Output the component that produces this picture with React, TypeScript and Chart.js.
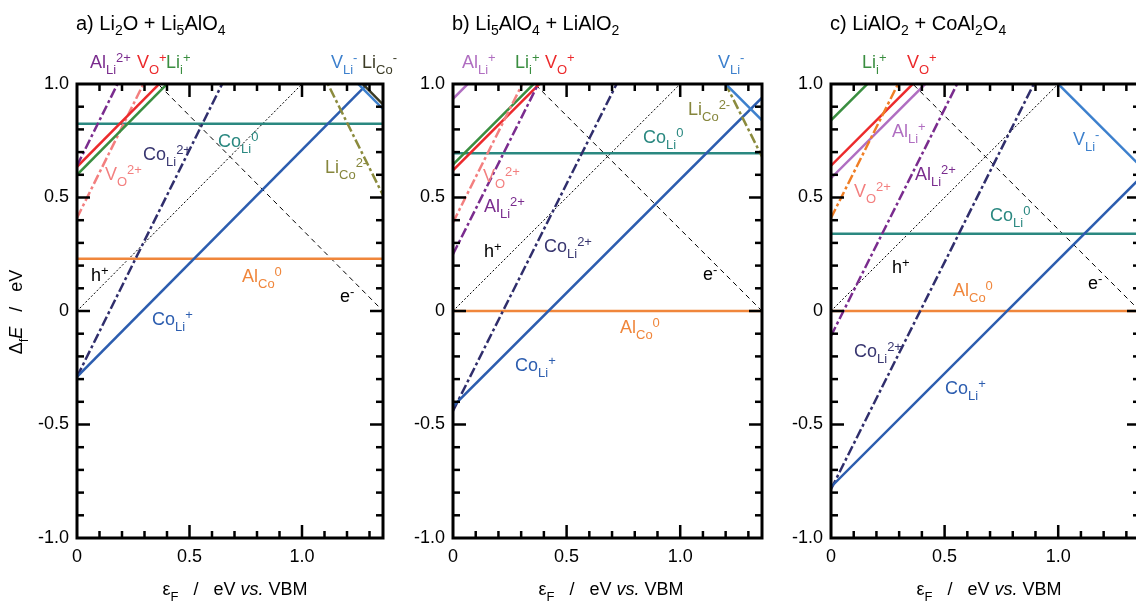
import React, { useEffect, useRef } from 'react';
import { Chart, registerables } from 'chart.js';

Chart.register(...registerables);

const FONT = '"Liberation Sans", Arial, Helvetica, sans-serif';

// ---------- data ----------
// Fermi level at the two ends of every line (eV vs. VBM)
const EF_ENDS = [0, 1.36];
const X_MAX = 1.36;
const X_TICKS = [0, 0.5, 1.0];
const Y_TICKS = [-1.0, -0.5, 0, 0.5, 1.0];

// free carriers: ΔfE at εF = 0 and εF = 1.36
const H_PLUS = [0, 1.36];
const E_MINUS = [1.36, 0];

// panel a) Li2O + Li5AlO4 — ΔfE (eV) at the two ends
const A_ALLI2 = [0.64, 3.36];
const A_VO1 = [0.635, 1.995];
const A_LII1 = [0.60, 1.96];
const A_VO2 = [0.41, 3.13];
const A_COLI2 = [-0.29, 2.43];
const A_COLI1 = [-0.29, 1.07];
const A_COLI0 = [0.825, 0.825];
const A_ALCO0 = [0.23, 0.23];
const A_VLI = [2.25, 0.89];
const A_LICO1 = [2.27, 0.91];
const A_LICO2 = [3.23, 0.51];

// panel b) Li5AlO4 + LiAlO2
const B_ALLI1 = [0.935, 2.295];
const B_LII1 = [0.645, 2.005];
const B_VO1 = [0.62, 1.98];
const B_VO2 = [0.39, 3.11];
const B_ALLI2 = [0.25, 2.97];
const B_COLI2 = [-0.44, 2.28];
const B_COLI1 = [-0.42, 0.94];
const B_COLI0 = [0.695, 0.695];
const B_ALCO0 = [0.0, 0.0];
const B_VLI = [2.2, 0.84];
const B_LICO2 = [3.4, 0.68];

// panel c) LiAlO2 + CoAl2O4
const C_LII1 = [0.84, 2.2];
const C_VO1 = [0.64, 2.0];
const C_ALLI1 = [0.585, 1.945];
const C_VO2 = [0.41, 3.13];
const C_ALLI2 = [-0.11, 2.61];
const C_COLI2 = [-0.785, 1.935];
const C_COLI1 = [-0.775, 0.585];
const C_COLI0 = [0.34, 0.34];
const C_ALCO0 = [0.0, 0.0];
const C_VLI = [2.0, 0.64];

// ---------- styles ----------
const COL = {
  liI: '#3A8E40',
  vo1: '#EC2A2C',
  alLi2: '#7A2C8E',
  alLi1: '#B06EC1',
  vo2: '#F37F7F',
  vo2c: '#F07E25',
  coLi2: '#302E6C',
  coLi1: '#2C5DAF',
  coLi0: '#2A8880',
  alCo0: '#F0863B',
  vLi: '#3D80CD',
  liCo1: '#3A3A22',
  liCo2: '#8B8B3D',
  black: '#000000',
};
const DASH2 = [10, 3, 3, 3];

type Series = { v: number[]; color: string; dash?: number[]; w?: number };
type Label = { t: string; c: string; dx: number; dy: number };
type Panel = {
  key: string;
  title: string;
  left: number;
  width: number;
  leftW: number;
  padRight: number;
  yTitle: boolean;
  series: Series[];
  labels: Label[];
};

const carriers: Series[] = [
  { v: H_PLUS, color: COL.black, dash: [2, 2], w: 1 },
  { v: E_MINUS, color: COL.black, dash: [5, 4], w: 1 },
];

const PANELS: Panel[] = [
  {
    key: 'a',
    title: 'a) Li_{2}O + Li_{5}AlO_{4}',
    left: 0,
    width: 400,
    leftW: 77,
    padRight: 17,
    yTitle: true,
    series: [
      { v: A_LICO1, color: COL.liCo1 },
      { v: A_VLI, color: COL.vLi },
      { v: A_LICO2, color: COL.liCo2, dash: DASH2 },
      { v: A_COLI1, color: COL.coLi1 },
      { v: A_COLI2, color: COL.coLi2, dash: DASH2 },
      { v: A_ALLI2, color: COL.alLi2, dash: DASH2 },
      { v: A_VO1, color: COL.vo1 },
      { v: A_LII1, color: COL.liI },
      { v: A_VO2, color: COL.vo2, dash: DASH2 },
      { v: A_COLI0, color: COL.coLi0 },
      { v: A_ALCO0, color: COL.alCo0 },
      ...carriers,
    ],
    labels: [
      { t: 'Al_{Li}^{2+}', c: COL.alLi2, dx: 13, dy: -16 },
      { t: 'V_{O}^{+}', c: COL.vo1, dx: 60, dy: -16 },
      { t: 'Li_{i}^{+}', c: COL.liI, dx: 89, dy: -16 },
      { t: 'V_{Li}^{-}', c: COL.vLi, dx: 254, dy: -16 },
      { t: 'Li_{Co}^{-}', c: '#3C3C26', dx: 285, dy: -16 },
      { t: 'Co_{Li}^{2+}', c: '#383670', dx: 66, dy: 76 },
      { t: 'Co_{Li}^{0}', c: COL.coLi0, dx: 141, dy: 63 },
      { t: 'V_{O}^{2+}', c: COL.vo2, dx: 28, dy: 96 },
      { t: 'Li_{Co}^{2-}', c: '#86863C', dx: 248, dy: 89 },
      { t: 'h^{+}', c: COL.black, dx: 14, dy: 197 },
      { t: 'Al_{Co}^{0}', c: COL.alCo0, dx: 165, dy: 198 },
      { t: 'e^{-}', c: COL.black, dx: 263, dy: 218 },
      { t: 'Co_{Li}^{+}', c: COL.coLi1, dx: 75, dy: 241 },
    ],
  },
  {
    key: 'b',
    title: 'b) Li_{5}AlO_{4} + LiAlO_{2}',
    left: 390,
    width: 390,
    leftW: 63,
    padRight: 18,
    yTitle: false,
    series: [
      { v: B_VLI, color: COL.vLi },
      { v: B_LICO2, color: COL.liCo2, dash: DASH2 },
      { v: B_COLI1, color: COL.coLi1 },
      { v: B_COLI2, color: COL.coLi2, dash: DASH2 },
      { v: B_ALLI2, color: COL.alLi2, dash: DASH2 },
      { v: B_VO2, color: COL.vo2, dash: DASH2 },
      { v: B_LII1, color: COL.liI },
      { v: B_VO1, color: COL.vo1 },
      { v: B_ALLI1, color: COL.alLi1 },
      { v: B_COLI0, color: COL.coLi0 },
      { v: B_ALCO0, color: COL.alCo0 },
      ...carriers,
    ],
    labels: [
      { t: 'Al_{Li}^{+}', c: COL.alLi1, dx: 9, dy: -16 },
      { t: 'Li_{i}^{+}', c: COL.liI, dx: 62, dy: -16 },
      { t: 'V_{O}^{+}', c: COL.vo1, dx: 92, dy: -16 },
      { t: 'V_{Li}^{-}', c: COL.vLi, dx: 265, dy: -16 },
      { t: 'Li_{Co}^{2-}', c: '#86863C', dx: 235, dy: 31 },
      { t: 'Co_{Li}^{0}', c: COL.coLi0, dx: 190, dy: 59 },
      { t: 'V_{O}^{2+}', c: COL.vo2, dx: 30, dy: 98 },
      { t: 'Al_{Li}^{2+}', c: COL.alLi2, dx: 31, dy: 128 },
      { t: 'h^{+}', c: COL.black, dx: 31, dy: 173 },
      { t: 'Co_{Li}^{2+}', c: '#383670', dx: 91, dy: 168 },
      { t: 'e^{-}', c: COL.black, dx: 250, dy: 196 },
      { t: 'Al_{Co}^{0}', c: COL.alCo0, dx: 167, dy: 249 },
      { t: 'Co_{Li}^{+}', c: COL.coLi1, dx: 62, dy: 287 },
    ],
  },
  {
    key: 'c',
    title: 'c) LiAlO_{2} + CoAl_{2}O_{4}',
    left: 770,
    width: 380,
    leftW: 61,
    padRight: 10,
    yTitle: false,
    series: [
      { v: C_VLI, color: COL.vLi },
      { v: C_COLI1, color: COL.coLi1 },
      { v: C_COLI2, color: COL.coLi2, dash: DASH2 },
      { v: C_ALLI2, color: COL.alLi2, dash: DASH2 },
      { v: C_VO2, color: COL.vo2c, dash: DASH2 },
      { v: C_ALLI1, color: COL.alLi1 },
      { v: C_VO1, color: COL.vo1 },
      { v: C_LII1, color: COL.liI },
      { v: C_COLI0, color: COL.coLi0 },
      { v: C_ALCO0, color: COL.alCo0 },
      ...carriers,
    ],
    labels: [
      { t: 'Li_{i}^{+}', c: COL.liI, dx: 31, dy: -16 },
      { t: 'V_{O}^{+}', c: COL.vo1, dx: 76, dy: -16 },
      { t: 'Al_{Li}^{+}', c: COL.alLi1, dx: 61, dy: 53 },
      { t: 'V_{Li}^{-}', c: COL.vLi, dx: 242, dy: 61 },
      { t: 'Al_{Li}^{2+}', c: COL.alLi2, dx: 84, dy: 96 },
      { t: 'V_{O}^{2+}', c: COL.vo2, dx: 23, dy: 113 },
      { t: 'Co_{Li}^{0}', c: COL.coLi0, dx: 159, dy: 137 },
      { t: 'h^{+}', c: COL.black, dx: 61, dy: 189 },
      { t: 'Al_{Co}^{0}', c: COL.alCo0, dx: 122, dy: 212 },
      { t: 'e^{-}', c: COL.black, dx: 257, dy: 205 },
      { t: 'Co_{Li}^{2+}', c: '#383670', dx: 23, dy: 273 },
      { t: 'Co_{Li}^{+}', c: COL.coLi1, dx: 114, dy: 310 },
    ],
  },
];

// ---------- rich text ----------
type Seg = { t: string; k: 'b' | 'sub' | 'sup'; it: boolean };
function parseRich(s: string): Seg[] {
  const segs: Seg[] = [];
  let buf = '';
  let italic = false;
  let i = 0;
  const push = (t: string, k: Seg['k']) => {
    if (t) segs.push({ t, k, it: italic });
  };
  while (i < s.length) {
    const c = s[i];
    if ((c === '_' || c === '^') && s[i + 1] === '{') {
      push(buf, 'b');
      buf = '';
      const end = s.indexOf('}', i + 2);
      push(s.slice(i + 2, end), c === '_' ? 'sub' : 'sup');
      i = end + 1;
    } else if (c === '|') {
      push(buf, 'b');
      buf = '';
      italic = !italic;
      i++;
    } else {
      buf += c;
      i++;
    }
  }
  push(buf, 'b');
  return segs;
}

type RichOpt = { size: number; sub: number; subOff: number; supOff: number; align?: 'left' | 'center' };
function drawRich(ctx: CanvasRenderingContext2D, s: string, x: number, y: number, color: string, o: RichOpt) {
  const segs = parseRich(s);
  const font = (g: Seg) => `${g.it ? 'italic ' : ''}${g.k === 'b' ? o.size : o.sub}px ${FONT}`;
  const widths = segs.map((g) => {
    ctx.font = font(g);
    return ctx.measureText(g.t).width;
  });
  const total = widths.reduce((a, b) => a + b, 0);
  let cx = o.align === 'center' ? x - total / 2 : x;
  ctx.fillStyle = color;
  ctx.textAlign = 'left';
  ctx.textBaseline = 'alphabetic';
  segs.forEach((g, i) => {
    ctx.font = font(g);
    const off = g.k === 'sub' ? o.subOff : g.k === 'sup' ? o.supOff : 0;
    ctx.fillText(g.t, cx, y + off);
    cx += widths[i];
  });
}

const LABEL_OPT: RichOpt = { size: 18, sub: 13, subOff: 6, supOff: -6 };
const TITLE_OPT: RichOpt = { size: 20, sub: 14, subOff: 5, supOff: -7 };
const AXIS_OPT: RichOpt = { size: 18, sub: 13, subOff: 6, supOff: -6, align: 'center' };

const fmt = (v: number) => (v === 0 ? '0' : v.toFixed(1));

function makePlugin(p: Panel) {
  return {
    id: 'deco_' + p.key,
    afterDatasetsDraw(chart: any) {
      const { ctx, chartArea: ca, scales } = chart;
      const x = scales.x;
      const y = scales.y;
      ctx.save();
      ctx.strokeStyle = '#000';
      ctx.lineCap = 'butt';
      ctx.lineWidth = 2.5;
      const seg = (x1: number, y1: number, x2: number, y2: number) => {
        ctx.beginPath();
        ctx.moveTo(x1, y1);
        ctx.lineTo(x2, y2);
        ctx.stroke();
      };
      for (let i = 1; i <= 13; i++) {
        const px = x.getPixelForValue(i / 10);
        const L = i % 5 === 0 ? 13 : 7;
        seg(px, ca.bottom, px, ca.bottom - L);
        seg(px, ca.top, px, ca.top + L);
      }
      for (let i = -9; i <= 9; i++) {
        const py = y.getPixelForValue(i / 10);
        const L = i % 5 === 0 ? 13 : 7;
        seg(ca.left, py, ca.left + L, py);
        seg(ca.right, py, ca.right - L, py);
      }
      ctx.lineWidth = 3;
      ctx.strokeRect(ca.left, ca.top, ca.right - ca.left, ca.bottom - ca.top);
      ctx.restore();
    },
    afterDraw(chart: any) {
      const { ctx, chartArea: ca } = chart;
      ctx.save();
      drawRich(ctx, p.title, ca.left - 1, ca.top - 54, '#000', TITLE_OPT);
      p.labels.forEach((l) => drawRich(ctx, l.t, ca.left + l.dx, ca.top + l.dy, l.c, LABEL_OPT));
      drawRich(ctx, 'ε_{F}   /   eV |vs.| VBM', ca.left + 158, ca.bottom + 57, '#000', AXIS_OPT);
      if (p.yTitle) {
        ctx.translate(22, (ca.top + ca.bottom) / 2 + 1);
        ctx.rotate(-Math.PI / 2);
        drawRich(ctx, 'Δ_{f}|E|   /   eV', 0, 0, '#000', AXIS_OPT);
      }
      ctx.restore();
    },
  };
}

function PanelChart({ p }: { p: Panel }) {
  const ref = useRef<HTMLCanvasElement | null>(null);
  useEffect(() => {
    if (!ref.current) return;
    const chart = new Chart(ref.current, {
      type: 'scatter',
      data: {
        datasets: p.series.map((s) => ({
          data: EF_ENDS.map((e, i) => ({ x: e, y: s.v[i] })),
          showLine: true,
          borderColor: s.color,
          backgroundColor: s.color,
          borderWidth: s.w ?? 2.5,
          borderDash: s.dash ?? [],
          borderCapStyle: 'butt',
          pointRadius: 0,
          pointHoverRadius: 0,
          tension: 0,
          fill: false,
          clip: 0,
        })),
      },
      options: {
        responsive: false,
        animation: false,
        devicePixelRatio: 1,
        events: [],
        layout: { padding: { left: 0, right: p.padRight, top: 84, bottom: 0 } },
        plugins: { legend: { display: false }, tooltip: { enabled: false }, title: { display: false } },
        scales: {
          x: {
            type: 'linear',
            min: 0,
            max: X_MAX,
            grid: { display: false, drawTicks: false },
            border: { display: false },
            afterBuildTicks: (s: any) => {
              s.ticks = X_TICKS.map((v) => ({ value: v }));
            },
            afterFit: (s: any) => {
              s.height = 71;
            },
            ticks: {
              font: { family: FONT, size: 18 },
              color: '#000',
              padding: 8,
              maxRotation: 0,
              autoSkip: false,
              callback: (v: any) => fmt(Number(v)),
            },
          },
          y: {
            type: 'linear',
            min: -1,
            max: 1,
            grid: { display: false, drawTicks: false },
            border: { display: false },
            afterBuildTicks: (s: any) => {
              s.ticks = Y_TICKS.map((v) => ({ value: v }));
            },
            afterFit: (s: any) => {
              s.width = p.leftW;
            },
            ticks: {
              font: { family: FONT, size: 18 },
              color: '#000',
              padding: 8,
              autoSkip: false,
              callback: (v: any) => fmt(Number(v)),
            },
          },
        },
      },
      plugins: [makePlugin(p)],
    } as any);
    return () => chart.destroy();
  }, [p]);
  return (
    <canvas
      ref={ref}
      width={p.width}
      height={609}
      style={{ position: 'absolute', left: p.left, top: 0, width: p.width, height: 609 }}
    />
  );
}

export default function App() {
  return (
    <div
      style={{
        position: 'absolute',
        left: 0,
        top: 0,
        width: 1136,
        height: 609,
        overflow: 'hidden',
        background: '#fff',
      }}
    >
      {PANELS.map((p) => (
        <PanelChart key={p.key} p={p} />
      ))}
    </div>
  );
}
